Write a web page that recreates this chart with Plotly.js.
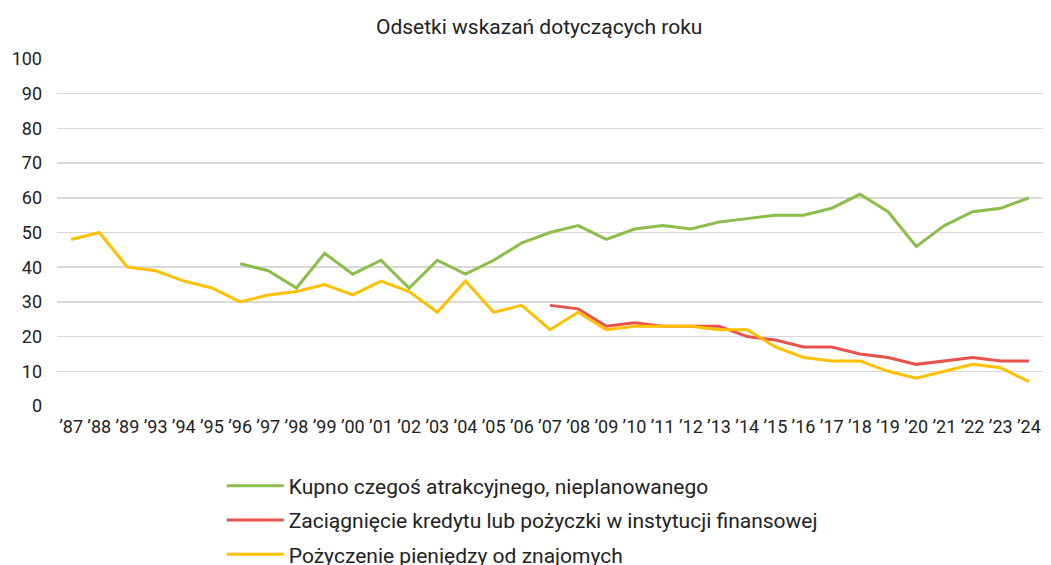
<!DOCTYPE html>
<html>
<head>
<meta charset="utf-8">
<script src="https://cdn.plot.ly/plotly-3.0.1.min.js"></script>
<style>html,body{margin:0;padding:0;background:#fff;}#chart{width:1051px;height:565px;}</style>
</head>
<body>
<div id="chart"></div>
<script>
const categories = ["’87","’88","’89","’93","’94","’95","’96","’97","’98","’99","’00","’01","’02","’03","’04","’05","’06","’07","’08","’09","’10","’11","’12","’13","’14","’15","’16","’17","’18","’19","’20","’21","’22","’23","’24"];
const kupno = [null,null,null,null,null,null,41,39,34,44,38,42,34,42,38,42,47,50,52,48,51,52,51,53,54,55,55,57,61,56,46,52,56,57,60];
const kredyt = [null,null,null,null,null,null,null,null,null,null,null,null,null,null,null,null,null,29,28,23,24,23,23,23,20,19,17,17,15,14,12,13,14,13,13];
const znajomi = [48,50,40,39,36,34,30,32,33,35,32,36,33,27,36,27,29,22,27,22,23,23,23,22,22,17,14,13,13,10,8,10,12,11,7];
const seriesNames = ["Kupno czegoś atrakcyjnego, nieplanowanego","Zaciągnięcie kredytu lub pożyczki w instytucji finansowej","Pożyczenie pieniędzy od znajomych"];
const colors = ["#8BBE4B","#E8524A","#FFC000"];

const data = [kupno, kredyt, znajomi].map((v,i)=>({
  type:"scatter", mode:"lines", x:categories, y:v, name:seriesNames[i], legendgroup:"g"+i,
  line:{color:colors[i], width:3}, connectgaps:false, hoverinfo:"skip"
}));

const layout = {
  width:1051, height:565,
  margin:{l:57, r:8, t:59, b:159, autoexpand:false},
  paper_bgcolor:"#fff", plot_bgcolor:"#fff",
  font:{family:"Roboto, sans-serif", color:"#222", size:18},
  title:{text:"Odsetki wskazań dotyczących roku", font:{size:21, color:"#222"}, x:0.513, xanchor:"center", y:0.952, yanchor:"middle"},
  xaxis:{type:"category", range:[-0.5,34.5], showgrid:false, zeroline:false, showline:false, ticks:"", tickfont:{size:18}, tickangle:0, ticklabelstandoff:8, fixedrange:true},
  yaxis:{range:[0,100], dtick:10, showgrid:true, gridcolor:"#D9D9D9", gridwidth:1.5, zeroline:false, showline:false, ticks:"", tickfont:{size:18}, ticklabelstandoff:14, fixedrange:true},
  showlegend:true,
  legend:{orientation:"v", xref:"container", yref:"container", x:0.211, xanchor:"left", y:0.176, yanchor:"top", font:{size:21, color:"#222"}, itemwidth:57, tracegroupgap:4, bgcolor:"rgba(0,0,0,0)"}
};
Plotly.newPlot("chart", data, layout, {displayModeBar:false, staticPlot:true});
</script>
</body>
</html>
